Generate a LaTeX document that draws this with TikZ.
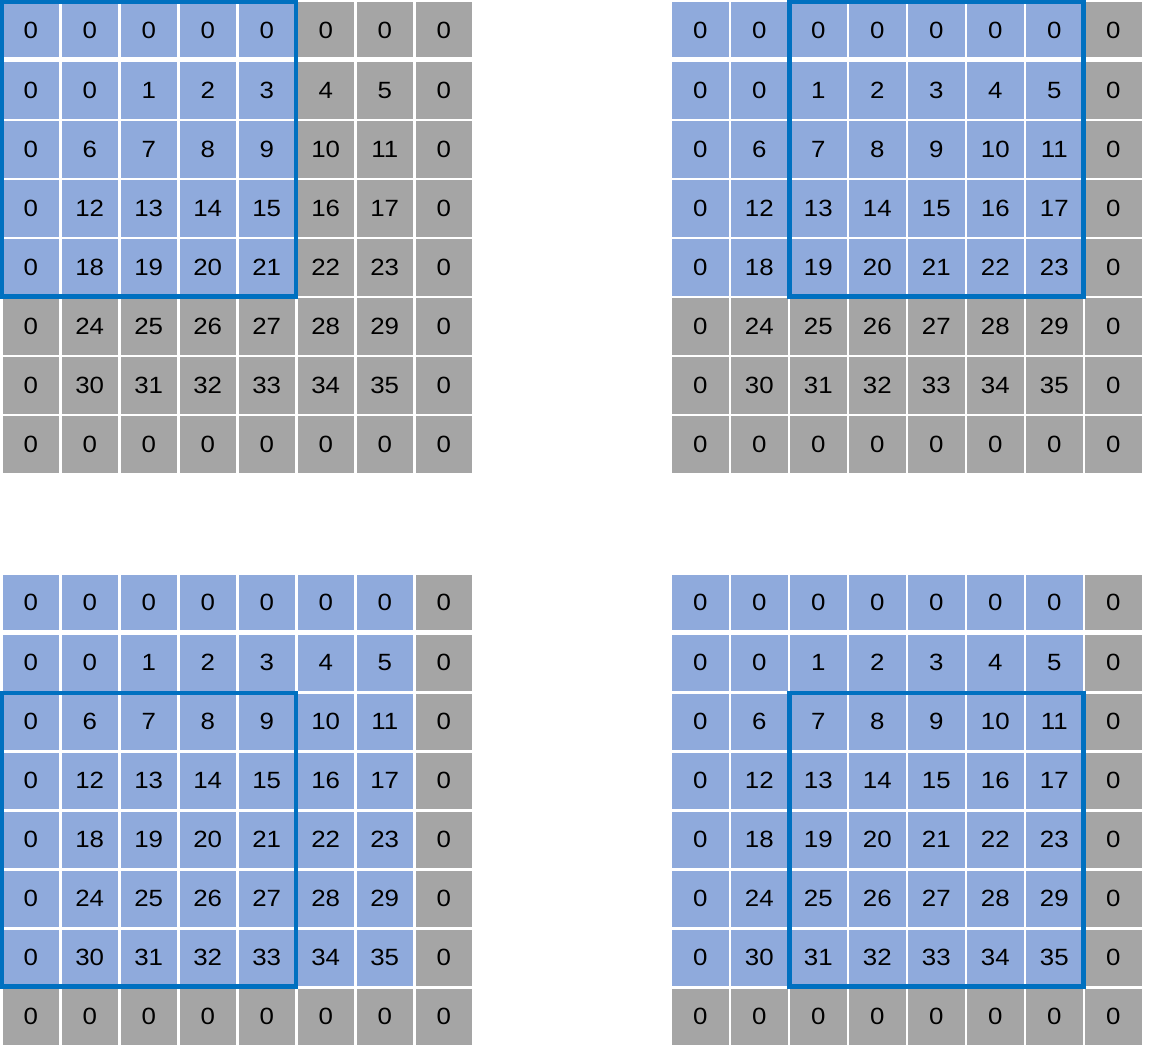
\documentclass[tikz,border=0pt]{standalone}
\usepackage{fontspec}
\setmainfont{Liberation Sans}[FakeStretch=1.1]
\definecolor{cblue}{HTML}{8FAADC}
\definecolor{cgrey}{HTML}{A5A5A5}
\definecolor{cframe}{HTML}{0070C0}
\tikzset{
  cell/.style={rectangle, inner sep=0pt, minimum width=56.5pt, font=\fontsize{23.5}{28}\selectfont, text=black},
  hframe/.style={draw=cframe, line width=4.5pt}
}
\begin{document}
\begin{tikzpicture}[x=1pt,y=-1pt]
\useasboundingbox (0,0) rectangle (1149,1048);
\foreach \g/\ox/\oy/\br/\bc in {1/2.5/0/4/4, 2/672/0/4/6, 3/2.5/572/6/6, 4/672/572/6/6}{
  \foreach \r in {0,...,7}{
    \foreach \c in {0,...,7}{
      \pgfmathtruncatemacro\v{(\r>0)*(\r<7)*(\c>0)*(\c<7)*((\r-1)*6+\c-1)}
      \pgfmathtruncatemacro\isb{(\r<=\br)*(\c<=\bc)}
      \pgfmathsetmacro\cx{\ox+59*\c+28.25}
      \pgfmathsetmacro\cy{\r==0 ? \oy+30 : \oy+31.75+59*\r}
      \pgfmathsetmacro\hh{\r==0 ? 55 : 56.5}
      \ifnum\isb=1 \def\cc{cblue}\else\def\cc{cgrey}\fi
      \node[cell, minimum height=\hh pt, fill=\cc] (g\g-\r-\c) at (\cx,\cy) {\v};
    }
  }
}
\draw[hframe] ([xshift=-0.5pt,yshift=0.5pt]g1-0-0.north west) rectangle ([xshift=1pt,yshift=-0.5pt]g1-4-4.south east);
\draw[hframe] ([xshift=-0.5pt,yshift=0.5pt]g2-0-2.north west) rectangle ([xshift=1pt,yshift=-0.5pt]g2-4-6.south east);
\draw[hframe] ([xshift=-0.5pt,yshift=0.5pt]g3-2-0.north west) rectangle ([xshift=1pt,yshift=-0.5pt]g3-6-4.south east);
\draw[hframe] ([xshift=-0.5pt,yshift=0.5pt]g4-2-2.north west) rectangle ([xshift=1pt,yshift=-0.5pt]g4-6-6.south east);
\end{tikzpicture}
\end{document}
